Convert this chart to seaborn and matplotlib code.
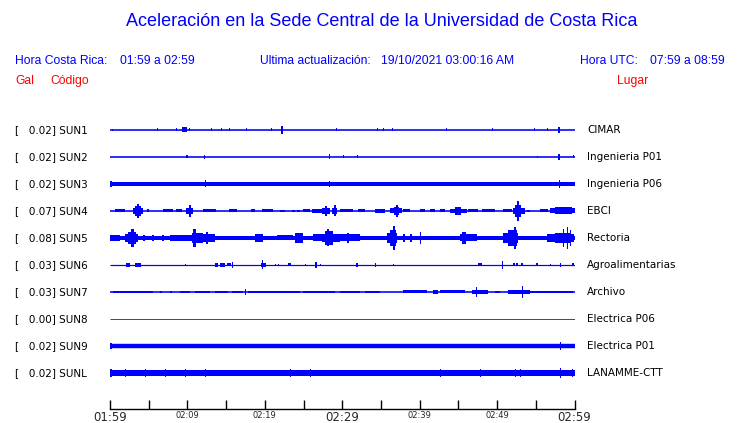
import numpy as np
import pandas as pd
import matplotlib
matplotlib.use("Agg")
import matplotlib.pyplot as plt
import seaborn as sns

# ---- data ----
codes = ["SUN1", "SUN2", "SUN3", "SUN4", "SUN5", "SUN6", "SUN7", "SUN8", "SUN9", "SUNL"]
places = ["CIMAR", "Ingenieria P01", "Ingenieria P06", "EBCI", "Rectoria",
          "Agroalimentarias", "Archivo", "Electrica P06", "Electrica P01", "LANAMME-CTT"]
peak_gal = ["0.02", "0.02", "0.02", "0.07", "0.08", "0.03", "0.03", "0.00", "0.02", "0.02"]
trace_colors = ["blue"] * 7 + ["red"] + ["blue"] * 2

# background noise half-amplitude of each trace (px)
base_amp = [0.8, 0.8, 2.0, 0.8, 2.0, 0.6, 0.8, 0.5, 2.2, 3.0]

# bursts: (start minute, end minute, half-amplitude px); minutes after 01:59
sun1 = [(0.26, 0.26, 1), (6.07, 6.07, 1.5), (8.53, 8.53, 1.5), (9.30, 9.95, 2.5),
        (10.21, 10.21, 1.5), (13.05, 13.05, 1.5), (14.34, 14.34, 1.5), (15.37, 15.37, 1.5),
        (17.57, 17.57, 1.5), (20.80, 20.80, 1.5), (22.09, 22.35, 4), (29.20, 29.20, 1.5),
        (34.50, 34.50, 1.5), (35.27, 35.27, 1.5), (36.43, 36.43, 1.5), (43.41, 43.41, 1.5),
        (49.35, 49.35, 1.5), (54.78, 54.78, 1.5), (56.46, 56.46, 1.5), (57.88, 58.14, 3)]
sun2 = [(9.82, 10.08, 1.5), (12.14, 12.14, 2), (28.29, 28.29, 2.5), (30.10, 30.10, 1.5),
        (31.91, 31.91, 1.5), (55.16, 55.16, 1), (57.88, 58.14, 3), (59.81, 59.81, 1.5)]
sun3 = [(0.0, 0.2, 3), (12.27, 12.27, 3.5), (28.29, 28.29, 3), (58.01, 58.01, 4)]
sun4 = [(0.65, 1.94, 1.5), (2.97, 4.26, 3), (3.23, 4.01, 5), (3.49, 3.75, 7),
        (4.78, 5.04, 1.5), (6.85, 8.14, 1.5), (8.53, 9.30, 1.5), (9.82, 10.72, 3),
        (10.21, 10.47, 6), (12.02, 13.70, 1.5), (15.37, 16.41, 1.5), (18.22, 18.73, 1.5),
        (19.64, 21.06, 1.5), (21.96, 22.61, 1), (23.51, 23.90, 1), (24.16, 24.55, 1),
        (24.94, 25.84, 1.5), (26.10, 27.39, 2), (27.39, 28.42, 3), (27.78, 28.04, 5),
        (28.68, 29.33, 3), (28.94, 29.20, 5.5), (29.72, 31.40, 1.5), (32.04, 32.94, 1.5),
        (34.24, 35.53, 2), (36.17, 37.72, 2.5), (36.69, 37.33, 4), (36.95, 37.21, 6),
        (37.85, 38.76, 1.5), (40.05, 40.70, 1.5), (41.34, 41.99, 1.5), (42.64, 43.28, 1.5),
        (43.93, 46.12, 2), (44.57, 45.35, 4), (46.25, 47.54, 1.5), (48.06, 49.74, 1.5),
        (50.77, 51.94, 1.5), (52.07, 53.62, 3), (52.33, 53.10, 6), (52.58, 52.84, 10),
        (53.88, 54.26, 1), (55.55, 56.59, 1.5), (56.85, 60.0, 2.5), (57.49, 59.69, 3.5)]
sun5 = [(0.0, 1.29, 3), (1.94, 3.62, 4), (2.33, 3.36, 6), (2.71, 3.10, 9),
        (4.26, 4.52, 3), (5.43, 5.68, 3), (6.72, 6.98, 3), (7.75, 10.59, 3),
        (10.59, 12.02, 5), (10.72, 11.11, 9), (12.02, 13.57, 4), (12.40, 12.66, 6),
        (18.73, 19.77, 4), (21.58, 23.64, 2.5), (23.90, 24.94, 5), (26.23, 27.39, 3.5),
        (27.39, 29.72, 4), (27.78, 28.81, 7), (28.04, 28.29, 8.5), (29.72, 32.30, 3.5),
        (30.62, 30.88, 5), (35.79, 37.08, 5), (36.17, 36.95, 8), (36.56, 36.82, 12),
        (37.85, 38.11, 4), (38.76, 39.02, 4), (40.05, 40.18, 6), (45.22, 47.41, 3.5),
        (45.48, 45.99, 6), (50.77, 52.71, 5), (51.42, 52.58, 8), (52.20, 52.45, 11),
        (56.46, 60.0, 4), (57.49, 59.43, 5), (58.53, 58.53, 9), (59.04, 59.04, 11),
        (59.43, 59.43, 8)]
sun6 = [(2.07, 2.58, 2), (3.23, 4.01, 2), (9.69, 9.69, 1), (13.57, 13.95, 2),
        (14.21, 14.86, 2), (15.12, 15.63, 1.5), (15.76, 15.76, 3), (19.51, 20.15, 2),
        (19.64, 19.64, 4.5), (21.32, 21.32, 1), (21.71, 21.71, 1), (23.00, 23.38, 1.5),
        (25.19, 25.19, 1), (26.49, 26.74, 3), (27.13, 27.13, 1), (31.78, 32.04, 2),
        (34.24, 34.37, 2), (36.56, 36.56, 1), (47.54, 48.06, 1.5), (50.64, 50.64, 4),
        (52.07, 52.33, 1.5), (52.45, 52.71, 1.5), (53.10, 53.36, 1.5), (55.04, 55.30, 1.5),
        (56.85, 56.85, 1), (58.14, 58.14, 2), (59.69, 59.95, 1.5)]
sun7 = [(0.39, 5.56, 1.3), (6.46, 6.72, 1), (7.75, 8.01, 1), (9.04, 10.34, 1),
        (10.98, 12.92, 1.2), (13.57, 15.24, 1.2), (15.76, 17.18, 1.2), (17.44, 17.44, 3),
        (17.83, 24.55, 1.2), (24.94, 29.07, 1.1), (29.72, 32.30, 1.2), (32.94, 34.88, 1),
        (37.85, 40.96, 1.5), (41.73, 42.38, 2), (42.64, 45.86, 1.5), (46.77, 48.83, 2),
        (47.28, 47.28, 5), (49.74, 50.38, 1), (51.42, 54.26, 2), (53.23, 53.23, 6),
        (54.26, 59.81, 1.2)]
sun8 = []
sun9 = [(0.0, 0.2, 3), (58.14, 58.14, 4)]
sunl = [(0.0, 0.2, 4), (1.94, 1.94, 4), (4.52, 4.52, 4), (7.10, 7.10, 4), (9.69, 9.69, 4),
        (12.27, 12.27, 4), (23.25, 23.25, 4), (25.84, 25.84, 4), (42.64, 42.64, 4),
        (47.80, 47.80, 4), (52.33, 52.33, 4), (52.97, 52.97, 4), (58.14, 58.14, 5),
        (59.69, 59.69, 4)]
bursts = [sun1, sun2, sun3, sun4, sun5, sun6, sun7, sun8, sun9, sunl]

tick_minutes = list(range(0, 61, 5))
tick_labels = ["01:59", "", "02:09", "", "02:19", "", "02:29", "", "02:39", "", "02:49", "", "02:59"]
big_labels = ["01:59", "02:29", "02:59"]

# ---- figure ----
sns.set_style("white")
W, H = 740, 423
fig = plt.figure(figsize=(W / 100, H / 100), dpi=100)
fig.patch.set_facecolor("white")


def fx(px):
    return px / W


def fy(py):
    return 1 - py / H


# axes in pixel units vertically so trace amplitudes stay in px
ax = fig.add_axes([fx(110), fy(409), 464.5 / W, (409 - 100) / H])
ax.set_xlim(0, 60)
ax.set_ylim(409, 100)
ax.set_facecolor("white")

min_w = 60 / 464.5  # one pixel wide in minutes
for i, code in enumerate(codes):
    y0 = 130 + 27 * i
    col = trace_colors[i]
    lw = max(2 * base_amp[i], 1.0) * 0.72
    line_df = pd.DataFrame({"t": [0, 60], "y": [y0, y0]})
    sns.lineplot(data=line_df, x="t", y="y", color=col, linewidth=lw, ax=ax,
                 solid_capstyle="butt")
    for t0, t1, a in bursts[i]:
        w = max(t1 - t0, min_w)
        ax.bar(t0, 2 * a, width=w, bottom=y0 - a, align="edge", color=col,
               edgecolor="none", linewidth=0)

    fig.text(fx(15), fy(y0), f"[   {peak_gal[i]}] {code}", fontsize=7.5,
             family="DejaVu Sans", va="center", ha="left", color="black")
    fig.text(fx(587), fy(y0), places[i], fontsize=7.5,
             family="DejaVu Sans", va="center", ha="left", color="black")

for s in ["top", "left", "right"]:
    ax.spines[s].set_visible(False)
ax.spines["bottom"].set_color("black")
ax.spines["bottom"].set_linewidth(1)
ax.set_yticks([])
ax.set_xticks(tick_minutes)
ax.set_xticklabels(tick_labels)
ax.tick_params(axis="x", bottom=True, direction="in", length=6.5, width=1,
               color="black", pad=1.5)
for lab in ax.get_xticklabels():
    lab.set_fontsize(8.5 if lab.get_text() in big_labels else 6)
    lab.set_verticalalignment("top")
ax.set_xlabel("")
ax.set_ylabel("")

# header texts
head = "Liberation Sans"
hs = 8.7
fig.text(fx(382), fy(22), "Aceleración en la Sede Central de la Universidad de Costa Rica",
         fontsize=13, family=head, color="blue", ha="center", va="center")
fig.text(fx(15), fy(61), "Hora Costa Rica:", fontsize=hs, family=head, color="blue", va="center")
fig.text(fx(120), fy(61), "01:59 a 02:59", fontsize=hs, family=head, color="blue", va="center")
fig.text(fx(260), fy(61), "Ultima actualización:", fontsize=hs, family=head, color="blue", va="center")
fig.text(fx(381), fy(61), "19/10/2021 03:00:16 AM", fontsize=hs, family=head, color="blue", va="center")
fig.text(fx(580), fy(61), "Hora UTC:", fontsize=hs, family=head, color="blue", va="center")
fig.text(fx(725), fy(61), "07:59 a 08:59", fontsize=hs, family=head, color="blue",
         va="center", ha="right")
fig.text(fx(15), fy(81), "Gal", fontsize=hs, family=head, color="red", va="center")
fig.text(fx(50), fy(81), "Código", fontsize=hs, family=head, color="red", va="center")
fig.text(fx(648), fy(81), "Lugar", fontsize=hs, family=head, color="red", va="center", ha="right")

fig.savefig("out.png", dpi=100)
